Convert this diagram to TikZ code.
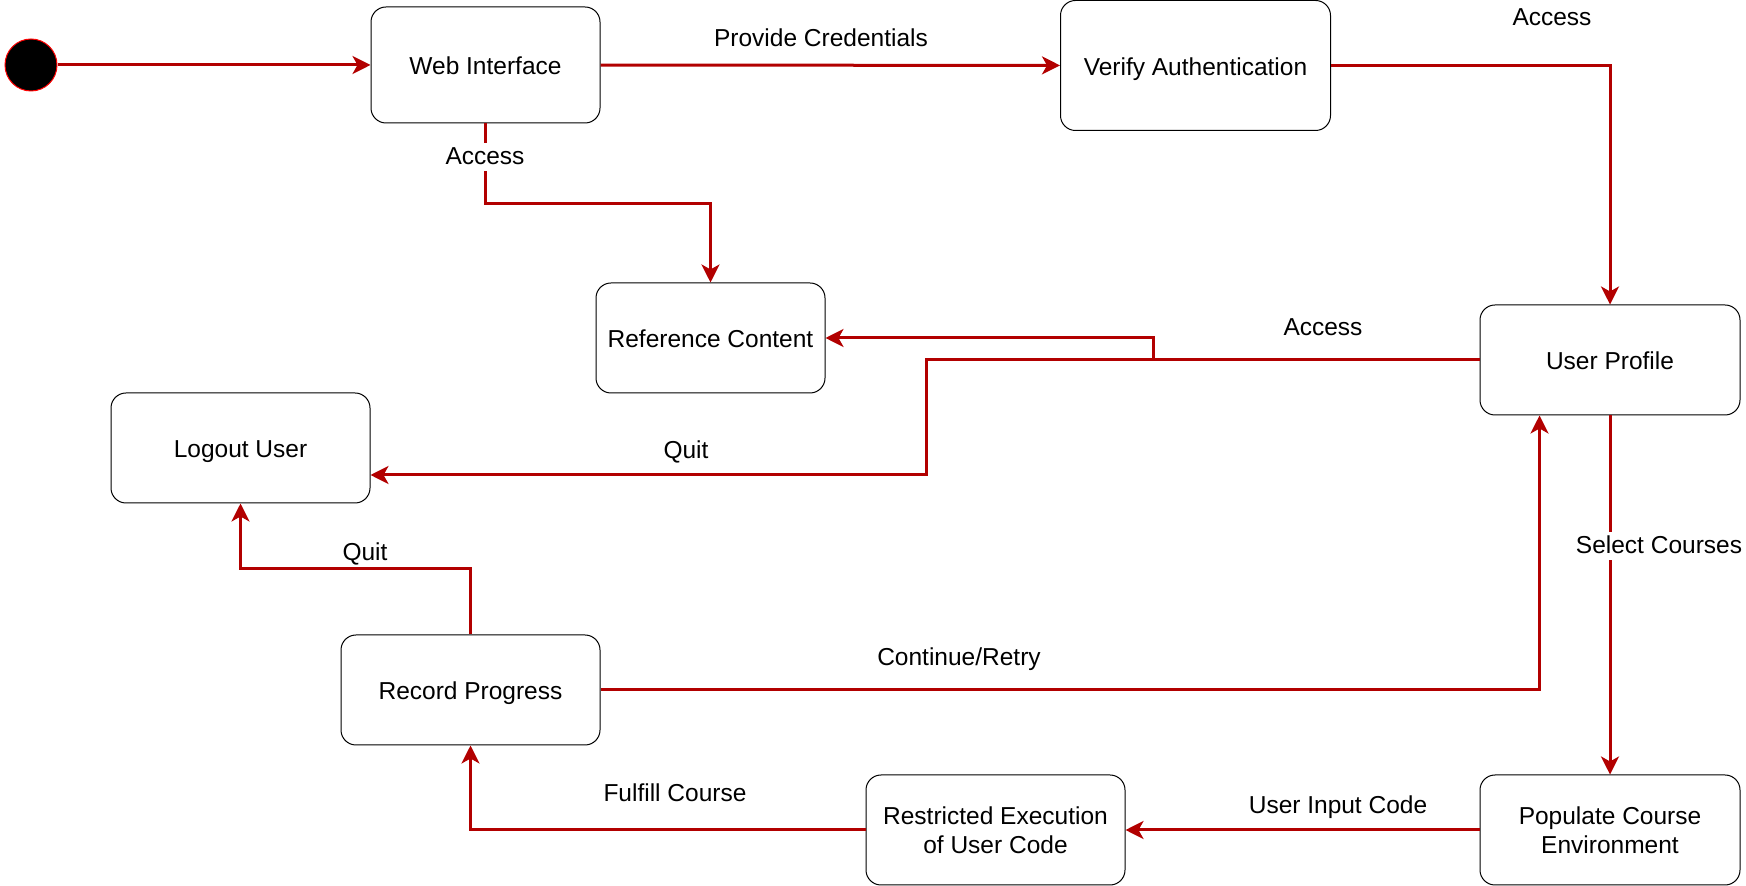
\documentclass[tikz,border=0pt]{standalone}
\usepackage{fontspec}
\setmainfont{Liberation Sans}
\usetikzlibrary{arrows.meta}
\definecolor{flowred}{HTML}{B20000}

\begin{document}
\begin{tikzpicture}[x=0.5pt, y=-0.5pt, font=\fontsize{12.25}{14.6}\selectfont,
  state/.style={draw, line width=0.5pt, rounded corners=7.5pt, align=center, inner sep=0pt, text depth=0pt, execute at begin node={\rule{0pt}{10pt}}, minimum width=129.5pt, minimum height=55pt},
  start/.style={circle, draw=red, fill=black, line width=0.5pt, minimum size=26pt, inner sep=0pt},
  flow/.style={draw=flowred, line width=1.5pt, -{Stealth[length=9pt, width=9pt, inset=2.5pt]}},
  lbl/.style={fill=white, inner xsep=1pt, inner ysep=3pt, text height=0.8em, text depth=0pt}]
\useasboundingbox (0,0) rectangle (1746,886);
\node[start] (s0) at (31,65) {};
\node[state, minimum width=114.5pt, minimum height=58pt] (web) at (485.5,65) {Web Interface};
\node[state, minimum width=135pt, minimum height=65pt] (ver) at (1195.5,65.5) {Verify Authentication};
\node[state, minimum width=114.5pt] (ref) at (710.5,338) {Reference Content};
\node[state] (out) at (240.5,448) {Logout User};
\node[state, minimum width=130pt] (prof) at (1610,360) {User Profile};
\node[state] (rec) at (470.5,690) {Record Progress};
\node[state] (exe) at (995.5,830) {Restricted Execution\\of User Code};
\node[state, minimum width=130pt] (pop) at (1610,830) {Populate Course\\Environment};
\coordinate (j1) at (1153,360);
\coordinate (j2) at (926,360);
\coordinate (j3) at (926,475);
\draw[flow] (s0) -- (web);
\draw[flow] (web) -- (ver);
\draw[flow] (ver) -| (prof);
\draw[flow] (web.south) -- ++(0,80) -| (ref.north);
\draw[flow] (prof.west) -- (j1) |- (ref.east);
\draw[flow] (prof.west) -- (j2) -- (j3) -- (j3 -| out.east);
\draw[flow] (rec.north) -- ++(0,-66) -| (out.south);
\draw[flow] (rec.east) -| ([xshift=-35.25pt]prof.south);
\draw[flow] (prof) -- (pop);
\draw[flow] (pop) -- (exe);
\draw[flow] (exe) -| (rec);
\node[lbl] (l1) at (821,39) {Provide Credentials};
\node[lbl] (l2) at (1552,18) {Access};
\node[lbl] (l3) at (485,157) {Access};
\node[lbl] (l4) at (1323,328) {Access};
\node[lbl] (l5) at (686,451) {Quit};
\node[lbl] (l6) at (365,553) {Quit};
\node[lbl] (l7) at (959,658) {Continue/Retry};
\node[lbl] (l8) at (1659,546) {Select Courses};
\node[lbl] (l9) at (1338,806) {User Input Code};
\node[lbl] (l10) at (675,794) {Fulfill Course};
\end{tikzpicture}
\end{document}
